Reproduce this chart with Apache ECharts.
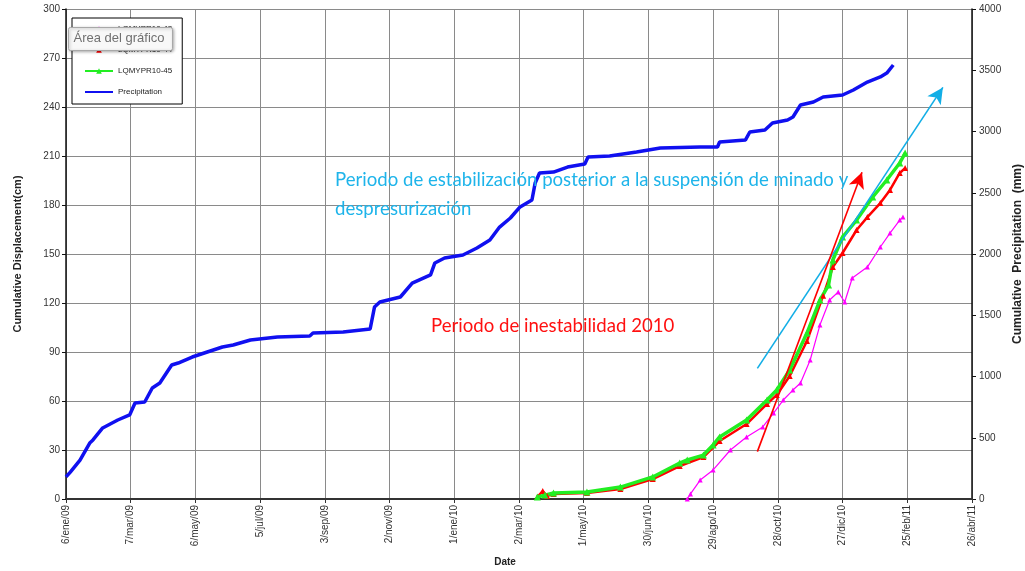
<!DOCTYPE html>
<html>
<head>
<meta charset="utf-8">
<script src="https://cdn.jsdelivr.net/npm/echarts@6/dist/echarts.min.js"></script>
<style>html,body{margin:0;padding:0;background:#fff}#c{width:1025px;height:571px}</style>
</head>
<body>
<div id="c"></div>
<script>
// X values are days elapsed since 6/ene/09
const xTickLabels = ["6/ene/09","7/mar/09","6/may/09","5/jul/09","3/sep/09","2/nov/09","1/ene/10","2/mar/10","1/may/10","30/jun/10","29/ago/10","28/oct/10","27/dic/10","25/feb/11","26/abr/11"];

const seriesNames = ["LQMYPR10-43","LQMYPR10-44","LQMYPR10-45","Precipitation"];

const magentaDays = [576,579,588,600,616,631,646,656,665,674,681,690,699,708,716,722,729,743,755,764,773,776];
const magentaValues = [0,3.1,11.6,17.8,30,38,44.1,52.6,60.6,66.7,71,85.1,106.5,121.8,126.7,120.6,135.3,142,154.3,162.8,170.8,172.6];

const redDays = [437,442,446,452,483,514,544,569,591,606,631,650,659,671,687,702,711,720,733,743,755,764,773,778];
const redValues = [1.2,4.9,1.8,3.1,3.7,6.1,12.2,20.2,25.7,35.5,45.9,58.2,63.7,75.3,96.7,124.5,142,150.6,164.7,172.6,181.2,189.2,199.6,202.6];

const greenDays = [437,444,452,483,514,544,569,576,591,600,606,631,650,659,671,687,699,707,711,720,733,748,761,773,778];
const greenValues = [1.2,2.4,3.7,4.3,7.3,13.5,22,23.9,26.9,33.1,38,48.4,60.6,66.7,79,101.6,121.8,131,146.3,160.4,170.8,184.9,195.3,205.7,211.8];

const precipDays = [0,4,13,22,25,34,48,59,64,73,80,87,98,104,117,131,145,155,171,196,226,229,257,282,286,291,310,321,338,342,351,368,381,393,402,412,421,432,435,439,452,465,481,484,504,529,551,588,604,606,630,634,648,655,669,674,681,693,702,720,730,743,755,761,767];
const precipValues = [180,220,318,457,482,580,645,686,784,792,906,947,1094,1110,1159,1200,1241,1257,1298,1322,1331,1355,1363,1388,1567,1608,1649,1763,1829,1927,1967,1992,2049,2114,2220,2294,2384,2441,2580,2661,2669,2710,2735,2792,2800,2833,2865,2873,2873,2914,2931,2996,3012,3069,3094,3118,3216,3241,3282,3298,3339,3404,3445,3477,3543];

// annotation arrows in data units [day, cm]
const blueArrow = [[641, 80], [813, 252]];
const redArrow = [[641, 29], [738, 200]];

const annoBlueText1 = "Periodo de estabilización posterior a la suspensión de minado y";
const annoBlueText2 = "despresurización";
const annoRedText = "Periodo de inestabilidad 2010";

function pairs(xs, ys){ return xs.map((x,i)=>[x, ys[i]]); }

const chart = echarts.init(document.getElementById('c'), null, {renderer:'canvas'});
const axisFont = {fontFamily:'Liberation Sans, Arial', fontSize:10, color:'#333'};
const option = {
  animation:false,
  backgroundColor:'#fff',
  grid:{left:66, right:53, top:9, bottom:72, show:false, containLabel:false, outerBoundsMode:'none'},
  xAxis:{
    type:'value', min:0, max:840, interval:60,
    name:'Date', nameLocation:'middle', nameGap:58,
    nameTextStyle:{fontFamily:'Liberation Sans, Arial', fontSize:10, fontWeight:'bold', color:'#222', padding:[0,28,0,0]},
    axisLine:{lineStyle:{color:'#333', width:2}},
    axisTick:{show:true, length:4, lineStyle:{color:'#333'}},
    axisLabel:Object.assign({rotate:90, margin:6, formatter:v=>xTickLabels[Math.round(v/60)]}, axisFont),
    splitLine:{show:true, lineStyle:{color:'#8a8a8a', width:1}}
  },
  yAxis:[{
    type:'value', min:0, max:300, interval:30, position:'left',
    name:'Cumulative Displacement(cm)', nameLocation:'middle', nameGap:43, nameRotate:90,
    nameTextStyle:{fontFamily:'Liberation Sans, Arial', fontSize:11, fontWeight:'bold', color:'#222'},
    axisLine:{show:true, lineStyle:{color:'#111', width:1.5}},
    axisTick:{show:true, length:4, lineStyle:{color:'#111'}},
    axisLabel:Object.assign({margin:6}, axisFont),
    splitLine:{show:true, lineStyle:{color:'#8a8a8a', width:1}}
  },{
    type:'value', min:0, max:4000, interval:500, position:'right',
    name:'Cumulative  Precipitation  (mm)', nameLocation:'middle', nameGap:37, nameRotate:90,
    nameTextStyle:{fontFamily:'Liberation Sans, Arial', fontSize:12, fontWeight:'bold', color:'#222'},
    axisLine:{show:true, lineStyle:{color:'#111', width:1.5}},
    axisTick:{show:true, length:4, lineStyle:{color:'#111'}},
    axisLabel:Object.assign({margin:7, formatter:v=>String(v)}, axisFont),
    splitLine:{show:false}
  }],
  legend:{
    orient:'vertical', left:72, top:18, z:5,
    data:[seriesNames[0], seriesNames[1], seriesNames[2], {name:seriesNames[3], itemStyle:{opacity:0}}],
    backgroundColor:'#fff', borderColor:'#000', borderWidth:1,
    padding:[7,10,8,12], itemGap:13, itemWidth:28, itemHeight:7,
    textStyle:{fontFamily:'Liberation Sans, Arial', fontSize:8, color:'#222'}
  },
  series:[
    {name:seriesNames[0], type:'line', yAxisIndex:0, data:pairs(magentaDays, magentaValues),
     symbol:'triangle', symbolSize:5, color:'#ff00ff', lineStyle:{width:1.2, color:'#ff00ff'}, itemStyle:{color:'#ff00ff'}},
    {name:seriesNames[1], type:'line', yAxisIndex:0, data:pairs(redDays, redValues),
     symbol:'triangle', symbolSize:6, color:'#ff0000', lineStyle:{width:2.5, color:'#ff0000'}, itemStyle:{color:'#ff0000'}},
    {name:seriesNames[2], type:'line', yAxisIndex:0, data:pairs(greenDays, greenValues),
     symbol:'triangle', symbolSize:7, color:'#22ee22', lineStyle:{width:3.5, color:'#22ee22'}, itemStyle:{color:'#22ee22'},
     markLine:{silent:true, symbol:['none','arrow'], label:{show:false}, animation:false,
       data:[
         [{coord:blueArrow[0], symbol:'none', lineStyle:{color:'#12aee6', width:1.6, type:'solid'}},
          {coord:blueArrow[1], symbol:'arrow', symbolSize:[12,16], itemStyle:{color:'#12aee6'}}],
         [{coord:redArrow[0], symbol:'none', lineStyle:{color:'#ff0000', width:1.6, type:'solid'}},
          {coord:redArrow[1], symbol:'arrow', symbolSize:[12,16], itemStyle:{color:'#ff0000'}}]
       ]}},
    {name:seriesNames[3], type:'line', yAxisIndex:1, data:pairs(precipDays, precipValues),
     showSymbol:false, symbol:'none', color:'#1010f0', lineStyle:{width:3.5, color:'#1010f0'}, itemStyle:{color:'#1010f0'}}
  ],
  graphic:[
    {type:'text', left:335, top:170, z:50, style:{text:annoBlueText1, fontFamily:'Lato, Open Sans, sans-serif', fontSize:18.6, fill:'#1eb4ea'}},
    {type:'text', left:335, top:199, z:50, style:{text:annoBlueText2, fontFamily:'Lato, Open Sans, sans-serif', fontSize:18.6, fill:'#1eb4ea'}},
    {type:'text', left:431, top:316, z:50, style:{text:annoRedText, fontFamily:'Lato, Open Sans, sans-serif', fontSize:18.6, fill:'#ff1010'}},
    {type:'group', left:68, top:27, z:100, children:[
      {type:'rect', z:100, shape:{x:0,y:0,width:104,height:23, r:2}, style:{fill:'#f8f8f8', stroke:'#a8a8a8', lineWidth:1, shadowBlur:3, shadowColor:'rgba(0,0,0,0.3)', shadowOffsetX:1, shadowOffsetY:1}},
      {type:'text', z:101, x:5, y:4, style:{text:'Área del gráfico', fontFamily:'Liberation Sans, Arial', fontSize:13, fill:'#707070'}}
    ]}
  ]
};
chart.setOption(option);
</script>
</body>
</html>
